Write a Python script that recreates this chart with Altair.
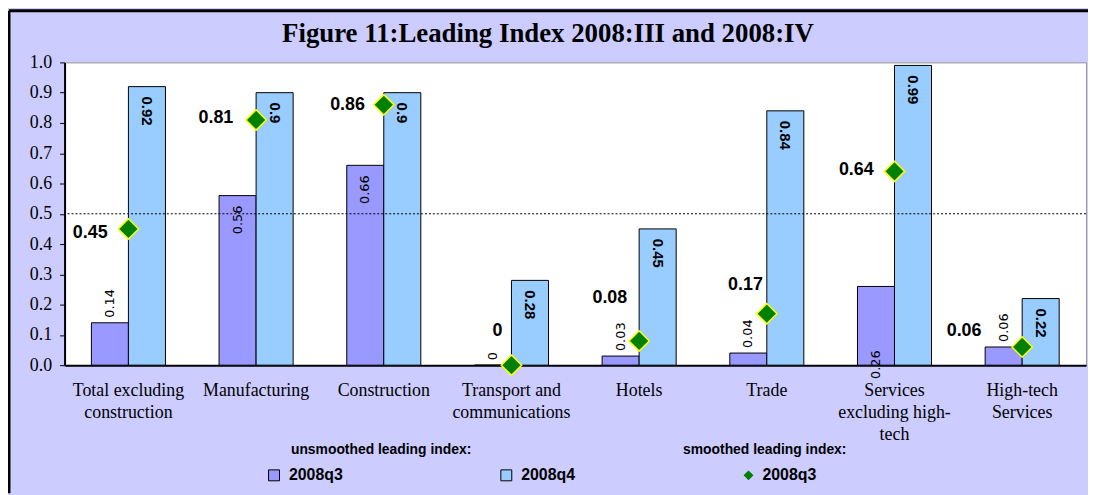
import altair as alt
import pandas as pd

# ---------------- data ----------------
categories = [
    "Total excluding\nconstruction",
    "Manufacturing",
    "Construction",
    "Transport and\ncommunications",
    "Hotels",
    "Trade",
    "Services\nexcluding high-\ntech",
    "High-tech\nServices",
]
series_names = ["2008q3", "2008q4"]
unsmoothed_q3 = [0.14, 0.56, 0.66, 0.0, 0.03, 0.04, 0.26, 0.06]
unsmoothed_q4 = [0.92, 0.90, 0.90, 0.28, 0.45, 0.84, 0.99, 0.22]
smoothed_name = "2008q3"
smoothed_q3 = [0.45, 0.81, 0.86, 0.0, 0.08, 0.17, 0.64, 0.06]
y_tick_values = [0.0, 0.1, 0.2, 0.3, 0.4, 0.5, 0.6, 0.7, 0.8, 0.9, 1.0]

# label styling (placement of the data labels, as in the picture)
q3_label_place = ["above", "inside", "inside", "above", "above", "above", "base", "above"]
smoothed_label_dx_px = [-21, -23, -19, -9, -12, -4, -21, -41]
smoothed_label_dy_px = [4, -2, 0, -34, -43, -29, -1, -16]

title_text = "Figure 11:Leading Index 2008:III and 2008:IV"
legend_title_bars = "unsmoothed leading index:"
legend_title_points = "smoothed leading index:"

# ---------------- layout ----------------
W, H = 1029, 305
PAD = {"left": 57, "top": 53, "right": 2, "bottom": 129}
SERIF = "Liberation Serif"
SANS = "Liberation Sans"
BAR_COLORS = ["#9999FF", "#99CCFF"]

rows = []
for i, c in enumerate(categories):
    rows.append({"category": c, "series": series_names[0], "value": unsmoothed_q3[i],
                 "place": q3_label_place[i],
                 "anchor": 0.0 if q3_label_place[i] == "base" else unsmoothed_q3[i]})
    rows.append({"category": c, "series": series_names[1], "value": unsmoothed_q4[i],
                 "place": "q4", "anchor": unsmoothed_q4[i]})
bars_df = pd.DataFrame(rows)

pts_df = pd.DataFrame({
    "category": categories,
    "value": smoothed_q3,
    "smooth_series": [smoothed_name] * len(categories),
})

x_axis = alt.Axis(
    title=None, labelAngle=0, ticks=False, labelFont=SERIF, labelFontSize=18,
    labelColor="black", domainColor="black", domainWidth=2, labelPadding=17,
    labelLineHeight=22, labelExpr="split(datum.label, '\\n')", labelLimit=200,
    labelBaseline="top",
)
x_scale = alt.Scale(paddingInner=0.42, paddingOuter=0.21)
y_axis = alt.Axis(
    title=None, values=y_tick_values, format=".1f", grid=False,
    labelFont=SERIF, labelFontSize=18, labelColor="black", tickColor="black",
    tickSize=5, domainColor="black", domainWidth=2, labelPadding=8,
    labelOverlap=False, tickCount=11,
)
y_scale = alt.Scale(domain=[0, 1], nice=False)


def X():
    return alt.X("category:N", sort=categories, scale=x_scale, axis=x_axis)


def Y(field):
    return alt.Y(field, scale=y_scale, axis=y_axis)


xoff = alt.XOffset("series:N", sort=series_names,
                   scale=alt.Scale(paddingInner=0, paddingOuter=0))

bars = alt.Chart(bars_df).mark_bar(stroke="black", strokeWidth=1).encode(
    x=X(), xOffset=xoff, y=Y("value:Q"),
    fill=alt.Fill(
        "series:N", sort=series_names,
        scale=alt.Scale(domain=series_names, range=BAR_COLORS),
        legend=alt.Legend(
            title=None, orient="none", legendX=203, legendY=408, direction="horizontal",
            symbolType="square", symbolSize=121, symbolStrokeColor="black",
            symbolStrokeWidth=1, symbolOpacity=1, labelFont=SANS, labelFontSize=16,
            labelFontWeight="bold", labelColor="black", labelOffset=7, columnPadding=156,
            padding=0,
        ),
    ),
)

ref_line = alt.Chart(pd.DataFrame({"value": [0.5]})).mark_rule(
    color="black", strokeWidth=1, strokeDash=[2, 2]
).encode(y=Y("value:Q"))

q4_labels = alt.Chart(bars_df).transform_filter(alt.datum.place == "q4").mark_text(
    angle=90, align="left", baseline="middle", dx=10, font=SANS, fontSize=15,
    fontWeight="bold", color="black",
).encode(x=X(), xOffset=xoff, y=Y("anchor:Q"),
         text=alt.Text("value:Q", format=".2~f"))


def q3_layer(place, align, dx):
    return alt.Chart(bars_df).transform_filter(alt.datum.place == place).mark_text(
        angle=270, align=align, baseline="middle", dx=dx, font="DejaVu Sans",
        fontSize=13, color="black",
    ).encode(x=X(), xOffset=xoff, y=Y("anchor:Q"),
             text=alt.Text("value:Q", format=".2~f"))


q3_above = q3_layer("above", "left", 5)
q3_inside = q3_layer("inside", "right", -10)
q3_base = q3_layer("base", "left", -14)

diamonds = alt.Chart(pts_df).mark_point(
    filled=True, fill="#008000", stroke="#FFFF00", strokeWidth=1.5, size=420, opacity=1
).encode(
    x=X(), y=Y("value:Q"),
    shape=alt.Shape(
        "smooth_series:N", scale=alt.Scale(domain=[smoothed_name], range=["diamond"]),
        legend=alt.Legend(
            title=None, orient="none", legendX=681, legendY=408, symbolSize=100,
            symbolFillColor="#008000", symbolStrokeColor="#FFFF00", symbolStrokeWidth=1,
            labelFont=SANS, labelFontSize=16, labelFontWeight="bold", labelColor="black",
            labelOffset=6, padding=0,
        ),
    ),
)

diamond_label_layers = []
for i, c in enumerate(categories):
    diamond_label_layers.append(
        alt.Chart(pts_df).transform_filter(alt.datum.category == c).mark_text(
            align="right", baseline="middle", dx=smoothed_label_dx_px[i],
            dy=smoothed_label_dy_px[i], font=SANS, fontSize=18, fontWeight="bold",
            color="black",
        ).encode(x=X(), y=Y("value:Q"), text=alt.Text("value:Q", format=".2~f"))
    )

title_mark = alt.Chart(pd.DataFrame({"t": [title_text]})).mark_text(
    align="center", baseline="alphabetic", font=SERIF, fontSize=27, fontWeight="bold",
    color="black",
).encode(x=alt.value(487), y=alt.value(-21), text="t:N")

leg_t1 = alt.Chart(pd.DataFrame({"t": [legend_title_bars]})).mark_text(
    align="left", baseline="alphabetic", font=SANS, fontSize=14, fontWeight="bold",
    color="black",
).encode(x=alt.value(228), y=alt.value(395), text="t:N")
leg_t2 = alt.Chart(pd.DataFrame({"t": [legend_title_points]})).mark_text(
    align="left", baseline="alphabetic", font=SANS, fontSize=14, fontWeight="bold",
    color="black",
).encode(x=alt.value(623), y=alt.value(395), text="t:N")

frame_left = alt.Chart(pd.DataFrame({"a": [0]})).mark_rule(color="black", strokeWidth=3).encode(
    x=alt.value(-56), y=alt.value(-52), y2=alt.value(434))
frame_top = alt.Chart(pd.DataFrame({"a": [0]})).mark_rule(color="black", strokeWidth=3).encode(
    x=alt.value(-56), x2=alt.value(1031), y=alt.value(-52))

chart = alt.layer(
    bars, ref_line, q4_labels, q3_above, q3_inside, q3_base, diamonds,
    *diamond_label_layers, title_mark, leg_t1, leg_t2, frame_left, frame_top,
).resolve_scale(
    fill="independent", shape="independent"
).properties(
    width=W, height=H,
    padding=PAD,
    autosize=alt.AutoSizeParams(type="none"),
    background="#CCCCFF",
).configure_view(fill="white", stroke="#999999", strokeWidth=1)

chart.save("out.html", embed_options={"renderer": "svg", "actions": False})
